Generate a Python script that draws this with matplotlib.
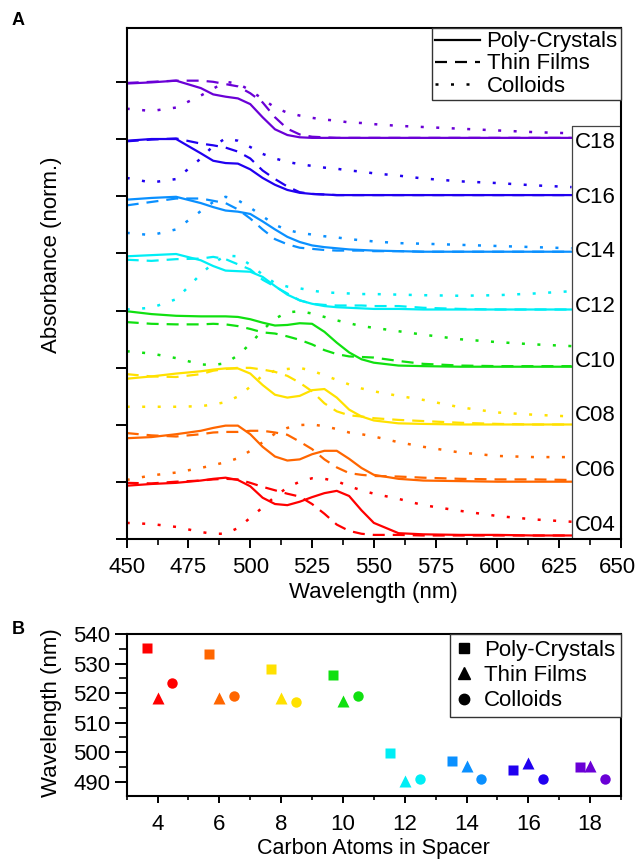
import numpy as np
import matplotlib
matplotlib.use('Agg')
import matplotlib.pyplot as plt
import matplotlib.transforms as mtransforms
from matplotlib.lines import Line2D

plt.rcParams['font.family'] = ['Liberation Sans', 'DejaVu Sans']
plt.rcParams['font.size'] = 16

# ---- panel A: normalised absorbance, one trace per sample and form ----
wl = [450, 460, 470, 480, 485, 490, 495, 500, 505, 510, 515, 520,
      525, 530, 535, 540, 545, 550, 560, 570, 585, 600, 615, 630]

samples = ['C04', 'C06', 'C08', 'C10', 'C12', 'C14', 'C16', 'C18']
colors = ['#FF0000', '#FF6600', '#FFE100', '#10E010',
          '#00EEF5', '#0A90FF', '#2000F0', '#6A00D6']

c04_poly = [0.94, 0.97, 0.99, 1.03, 1.06, 1.08, 1.04, 0.93, 0.73, 0.62, 0.60, 0.66,
            0.74, 0.81, 0.85, 0.76, 0.51, 0.29, 0.11, 0.09, 0.08, 0.08, 0.07, 0.07]
c04_film = [0.99, 0.98, 1.01, 1.03, 1.05, 1.06, 1.05, 0.99, 0.92, 0.86, 0.80, 0.75,
            0.62, 0.45, 0.26, 0.15, 0.10, 0.08, 0.08, 0.07, 0.07, 0.07, 0.07, 0.07]
c04_coll = [0.29, 0.27, 0.22, 0.13, 0.10, 0.10, 0.20, 0.38, 0.56, 0.75, 0.91, 1.01,
            1.07, 1.06, 1.02, 0.93, 0.86, 0.80, 0.71, 0.60, 0.50, 0.41, 0.35, 0.31]

c06_poly = [0.77, 0.79, 0.84, 0.90, 0.95, 0.99, 0.99, 0.84, 0.62, 0.45, 0.38, 0.40,
            0.49, 0.55, 0.55, 0.41, 0.25, 0.13, 0.06, 0.03, 0.02, 0.01, 0.01, 0.01]
c06_film = [0.86, 0.82, 0.80, 0.84, 0.87, 0.88, 0.88, 0.90, 0.90, 0.87, 0.83, 0.71,
            0.58, 0.40, 0.26, 0.16, 0.13, 0.11, 0.10, 0.08, 0.06, 0.05, 0.05, 0.04]
c06_coll = [0.04, 0.12, 0.17, 0.25, 0.30, 0.35, 0.42, 0.55, 0.70, 0.85, 0.95, 1.00,
            1.01, 0.98, 0.93, 0.87, 0.84, 0.80, 0.70, 0.62, 0.52, 0.46, 0.44, 0.44]

c08_poly = [0.81, 0.85, 0.90, 0.94, 0.97, 0.99, 0.99, 0.90, 0.70, 0.53, 0.48, 0.51,
            0.61, 0.63, 0.48, 0.27, 0.15, 0.08, 0.03, 0.02, 0.01, 0.01, 0.01, 0.01]
c08_film = [0.89, 0.85, 0.84, 0.89, 0.95, 0.98, 1.00, 1.00, 0.97, 0.93, 0.86, 0.74,
            0.59, 0.38, 0.24, 0.17, 0.15, 0.12, 0.09, 0.07, 0.04, 0.02, 0.01, 0.01]
c08_coll = [0.32, 0.32, 0.32, 0.33, 0.36, 0.40, 0.50, 0.67, 0.87, 0.95, 0.98, 1.00,
            0.95, 0.87, 0.79, 0.71, 0.64, 0.59, 0.51, 0.44, 0.31, 0.22, 0.18, 0.15]

c10_poly = [0.99, 0.94, 0.91, 0.90, 0.90, 0.90, 0.89, 0.85, 0.79, 0.74, 0.75, 0.78,
            0.77, 0.63, 0.44, 0.27, 0.15, 0.09, 0.04, 0.03, 0.02, 0.02, 0.02, 0.02]
c10_film = [0.80, 0.77, 0.76, 0.76, 0.77, 0.76, 0.73, 0.68, 0.62, 0.60, 0.55, 0.49,
            0.41, 0.31, 0.24, 0.20, 0.19, 0.18, 0.12, 0.07, 0.04, 0.03, 0.03, 0.03]
c10_coll = [0.29, 0.25, 0.17, 0.06, 0.05, 0.08, 0.22, 0.42, 0.66, 0.86, 0.97, 0.99,
            0.95, 0.89, 0.83, 0.78, 0.73, 0.70, 0.64, 0.58, 0.50, 0.45, 0.41, 0.38]

c12_poly = [0.95, 0.97, 0.99, 0.88, 0.78, 0.70, 0.69, 0.68, 0.59, 0.43, 0.28, 0.18,
            0.12, 0.08, 0.06, 0.05, 0.04, 0.03, 0.03, 0.02, 0.02, 0.02, 0.02, 0.02]
c12_film = [0.89, 0.87, 0.90, 0.91, 0.94, 0.90, 0.81, 0.72, 0.54, 0.42, 0.30, 0.18,
            0.12, 0.10, 0.09, 0.09, 0.09, 0.08, 0.08, 0.05, 0.03, 0.02, 0.02, 0.02]
c12_coll = [0.02, 0.05, 0.20, 0.64, 0.83, 0.96, 0.95, 0.80, 0.63, 0.48, 0.42, 0.39,
            0.35, 0.32, 0.31, 0.30, 0.29, 0.29, 0.28, 0.27, 0.26, 0.27, 0.30, 0.34]

c14_poly = [0.94, 0.97, 0.99, 0.88, 0.81, 0.75, 0.73, 0.69, 0.56, 0.42, 0.29, 0.20,
            0.14, 0.11, 0.09, 0.07, 0.06, 0.05, 0.04, 0.03, 0.03, 0.03, 0.03, 0.03]
c14_film = [0.84, 0.90, 0.96, 0.96, 0.92, 0.88, 0.77, 0.61, 0.42, 0.25, 0.16, 0.10,
            0.08, 0.06, 0.05, 0.05, 0.05, 0.04, 0.04, 0.03, 0.03, 0.03, 0.03, 0.03]
c14_coll = [0.36, 0.32, 0.42, 0.74, 0.90, 0.99, 0.93, 0.80, 0.65, 0.50, 0.41, 0.36,
            0.33, 0.30, 0.28, 0.25, 0.23, 0.21, 0.18, 0.17, 0.15, 0.13, 0.11, 0.09]

c16_poly = [0.97, 1.00, 1.00, 0.75, 0.62, 0.58, 0.57, 0.47, 0.32, 0.20, 0.11, 0.06,
            0.04, 0.03, 0.02, 0.02, 0.02, 0.02, 0.02, 0.02, 0.02, 0.02, 0.02, 0.02]
c16_film = [0.96, 0.99, 1.01, 0.92, 0.89, 0.85, 0.78, 0.66, 0.45, 0.30, 0.17, 0.07,
            0.04, 0.03, 0.02, 0.02, 0.02, 0.02, 0.02, 0.02, 0.02, 0.02, 0.02, 0.02]
c16_coll = [0.32, 0.24, 0.30, 0.66, 0.88, 1.01, 0.97, 0.86, 0.74, 0.66, 0.60, 0.56,
            0.53, 0.50, 0.48, 0.45, 0.43, 0.40, 0.36, 0.31, 0.26, 0.23, 0.19, 0.16]

c18_poly = [0.97, 0.99, 1.02, 0.89, 0.78, 0.74, 0.71, 0.61, 0.38, 0.17, 0.07, 0.03,
            0.02, 0.02, 0.02, 0.02, 0.02, 0.02, 0.02, 0.02, 0.02, 0.02, 0.02, 0.02]
c18_film = [0.98, 1.00, 1.02, 1.02, 1.00, 0.96, 0.92, 0.80, 0.64, 0.38, 0.18, 0.08,
            0.04, 0.03, 0.02, 0.02, 0.02, 0.02, 0.02, 0.02, 0.02, 0.02, 0.02, 0.02]
c18_coll = [0.53, 0.49, 0.55, 0.76, 0.88, 1.00, 0.97, 0.85, 0.70, 0.55, 0.46, 0.41,
            0.37, 0.34, 0.32, 0.29, 0.28, 0.26, 0.23, 0.21, 0.18, 0.15, 0.12, 0.10]

poly = [c04_poly, c06_poly, c08_poly, c10_poly, c12_poly, c14_poly, c16_poly, c18_poly]
film = [c04_film, c06_film, c08_film, c10_film, c12_film, c14_film, c16_film, c18_film]
coll = [c04_coll, c06_coll, c08_coll, c10_coll, c12_coll, c14_coll, c16_coll, c18_coll]

# ---- panel B: peak positions ----
pc_x = [3.67, 5.67, 7.67, 9.67, 11.53, 13.52, 15.52, 17.67]
pc_peak = [535.2, 533.2, 528.1, 526.1, 499.9, 497.0, 493.9, 495.0]
tf_x = [4, 6, 8, 10, 12, 14, 16, 18]
tf_peak = [518.4, 518.4, 518.4, 517.5, 490.3, 495.4, 496.5, 495.4]
co_x = [4.48, 6.48, 8.48, 10.48, 12.48, 14.48, 16.48, 18.48]
co_peak = [523.3, 519.1, 517.1, 519.1, 490.8, 490.8, 490.8, 490.8]

solid = '-'
dashed = (0, (5.4, 3.6))
dotted = (0, (1.2, 5.0))
lw = 1.6

fig = plt.figure(figsize=(6.36, 8.6), dpi=100)
axA = fig.add_axes([0.1992, 0.3727, 0.7772, 0.5947])
axB = fig.add_axes([0.1992, 0.0744, 0.7772, 0.1884])

for i in range(len(samples)):
    axA.plot(wl, np.array(coll[i]) + i, color=colors[i], lw=1.8, ls=dotted)
    axA.plot(wl, np.array(film[i]) + i, color=colors[i], lw=lw, ls=dashed)
    axA.plot(wl, np.array(poly[i]) + i, color=colors[i], lw=lw, ls=solid)
    axA.text(631.2, 0.25 + 0.956 * i, samples[i], va='center', ha='left', fontsize=16)

# box holding the sample names
axA.plot([630, 630, 650], [0, 7.23, 7.23], color='#444444', lw=0.9)

axA.set_xlim(450, 650)
axA.set_ylim(0, 8.94)
axA.set_xticks(np.arange(450, 651, 25))
axA.set_xticks(np.arange(450, 651, 12.5), minor=True)
axA.set_yticks(np.arange(0, 9, 1))
axA.set_yticklabels([])
axA.tick_params(axis='x', which='major', direction='out', length=6.5, width=1.4, pad=6)
axA.tick_params(axis='x', which='minor', direction='out', length=4.1, width=1.2)
axA.tick_params(axis='y', which='major', direction='out', length=8, width=1.4)
for s in axA.spines.values():
    s.set_linewidth(1.5)
axA.set_xlabel('Wavelength (nm)')
axA.set_ylabel('Absorbance (norm.)')
axA.xaxis.set_label_coords(0.5, -0.084)
axA.yaxis.set_label_coords(-0.13, 0.556)
# keep the last tick label inside the canvas
lab = axA.xaxis.get_majorticklabels()[-1]
lab.set_transform(lab.get_transform() + mtransforms.ScaledTranslation(-4 / 100, 0, fig.dpi_scale_trans))

hA = [Line2D([], [], color='black', lw=lw, ls=solid),
      Line2D([], [], color='black', lw=lw, ls=dashed),
      Line2D([], [], color='black', lw=1.8, ls=dotted)]
legA = axA.legend(hA, ['Poly-Crystals', 'Thin Films', 'Colloids'], loc='upper right',
                  bbox_to_anchor=(1.0, 1.0), borderaxespad=0, fancybox=False,
                  framealpha=1, edgecolor='#333333', fontsize=16, handlelength=2.0,
                  handletextpad=0.3, labelspacing=0.05, borderpad=0.15)
legA.get_frame().set_linewidth(1.0)

for i in range(len(samples)):
    axB.plot(pc_x[i], pc_peak[i], ls='none', marker='s', ms=7, color=colors[i], mec='none')
    axB.plot(tf_x[i], tf_peak[i], ls='none', marker='^', ms=8.5, color=colors[i], mec='none')
    axB.plot(co_x[i], co_peak[i], ls='none', marker='o', ms=7.5, color=colors[i], mec='none')

axB.set_xlim(3, 19)
axB.set_ylim(485.2, 540)
axB.set_xticks(np.arange(4, 19, 2))
axB.set_xticks(np.arange(3, 20, 1), minor=True)
axB.set_yticks(np.arange(490, 541, 10))
axB.set_yticks(np.arange(490, 541, 5), minor=True)
axB.tick_params(axis='x', which='major', direction='out', length=4.8, width=1.4, pad=8)
axB.tick_params(axis='x', which='minor', direction='out', length=2.9, width=1.2)
axB.tick_params(axis='y', which='major', direction='out', length=8.6, width=1.4, pad=3.4)
axB.tick_params(axis='y', which='minor', direction='out', length=5.5, width=1.2)
for s in axB.spines.values():
    s.set_linewidth(1.5)
axB.set_xlabel('Carbon Atoms in Spacer', fontsize=15.5)
axB.set_ylabel('Wavelength (nm)')
axB.xaxis.set_label_coords(0.5, -0.262)
axB.yaxis.set_label_coords(-0.131, 0.512)

hB = [Line2D([], [], color='black', ls='none', marker='s', ms=7),
      Line2D([], [], color='black', ls='none', marker='^', ms=8.5),
      Line2D([], [], color='black', ls='none', marker='o', ms=7.5)]
legB = axB.legend(hB, ['Poly-Crystals', 'Thin Films', 'Colloids'], loc='upper right',
                  bbox_to_anchor=(1.0, 1.0), borderaxespad=0, fancybox=False,
                  framealpha=1, edgecolor='#333333', fontsize=16, handlelength=0.8,
                  handletextpad=0.5, labelspacing=0.2, borderpad=0.25)
legB.get_frame().set_linewidth(1.0)

fig.text(0.018, 0.9767, 'A', fontsize=13, fontweight='bold', va='center')
fig.text(0.018, 0.2686, 'B', fontsize=13, fontweight='bold', va='center')

fig.savefig('out.png', dpi=100)
